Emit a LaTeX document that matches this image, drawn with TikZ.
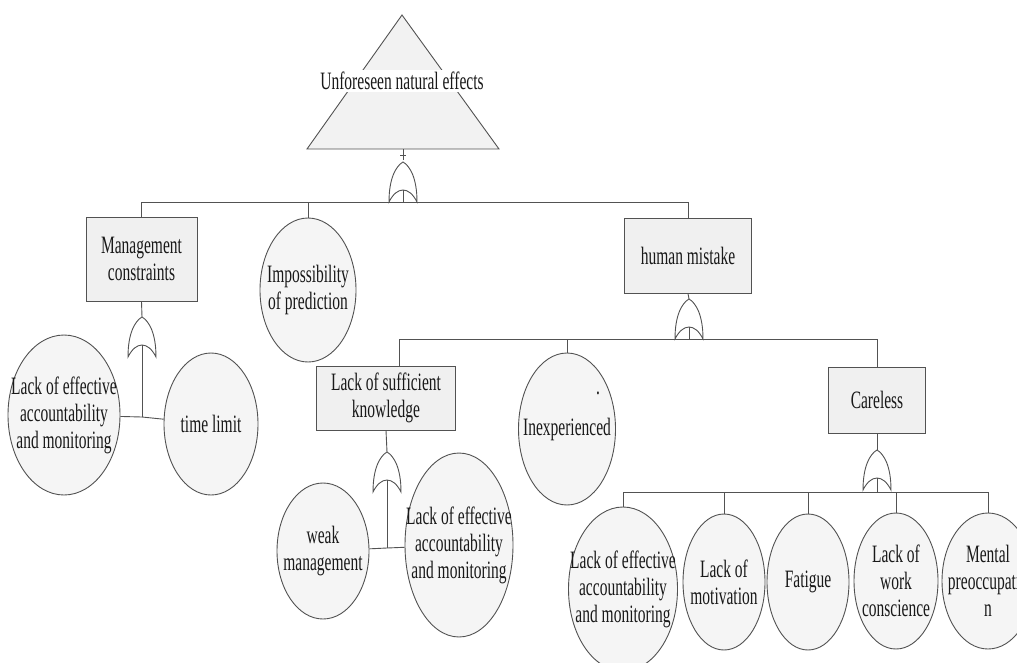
\documentclass[tikz,border=0pt]{standalone}
\usepackage{fontspec}
\setmainfont{Liberation Serif}[FakeStretch=0.62]
\usetikzlibrary{shapes.geometric,calc}

\tikzset{
  ln/.style={draw=black!68, line width=0.9pt},
  txt/.style={font=\fontsize{25}{27}\selectfont, text=black!90, align=center},
  evbox/.style={rectangle, ln, fill=black!6, inner sep=0pt, txt},
  basic/.style={ellipse, ln, fill=black!4, inner sep=-80pt, txt},
  orgate/.pic={
    \draw[ln, fill=white] (-14,0) .. controls (-14,-24) and (-7,-36) .. (0,-40)
      .. controls (7,-36) and (14,-24) .. (14,0)
      .. controls (6,-16) and (-6,-16) .. (-14,0) -- cycle;
    \coordinate (-top) at (0,-40);
    \coordinate (-in) at (0,-12);
  }
}

\begin{document}
\begin{tikzpicture}[x=1pt,y=-1pt]
\useasboundingbox (0,0) rectangle (1017,662);
\clip (0,0) rectangle (1017,662);

% top event
\draw[ln, fill=black!5] (402,15) -- (499,149) -- (307,149) -- cycle;
\coordinate (trib) at (403,149);
\node[txt, fill=white, inner sep=2pt] (ttl) at (402,81) {Unforeseen natural effects};

% level 1
\node[evbox, minimum width=111, minimum height=84] (mc) at (141.5,259) {Management\\constraints};
\node[basic, minimum width=96, minimum height=144] (ip) at (308,290) {Impossibility\\of prediction};
\node[evbox, minimum width=127, minimum height=75] (hm) at (688,255.5) {human mistake};

% management children
\node[basic, minimum width=112, minimum height=160] (le1) at (64,415) {Lack of effective\\accountability\\and monitoring};
\node[basic, minimum width=94, minimum height=142] (tl) at (211,424) {time limit};

% human mistake children
\node[evbox, minimum width=139, minimum height=64] (lsk) at (386,398) {Lack of sufficient\\knowledge};
\node[basic, minimum width=97, minimum height=152] (ie) at (567,429) {Inexperienced};
\node[txt, inner sep=0pt] (iedot) at (598,393) {.};
\node[evbox, minimum width=97, minimum height=66] (cl) at (877,400) {Careless};

% knowledge children
\node[basic, minimum width=92, minimum height=136] (wm) at (323,551) {weak\\management};
\node[basic, minimum width=108, minimum height=184] (le2) at (459,545) {Lack of effective\\accountability\\and monitoring};

% careless children
\node[basic, minimum width=109, minimum height=164] (le3) at (623,589) {Lack of effective\\accountability\\and monitoring};
\node[basic, minimum width=82, minimum height=136] (lm) at (724,582) {Lack of\\motivation};
\node[basic, minimum width=82, minimum height=136] (fa) at (808,582) {Fatigue};
\node[basic, minimum width=84, minimum height=136] (lw) at (896,581) {Lack of\\work\\conscience};
\node[basic, minimum width=92, minimum height=136] (mp) at (988,581) {Mental\\preoccupatio\\n};

% gate 1 (top)
\coordinate (b1) at (403,202);
\draw[ln] (trib) -- (403,160);
\draw[ln] (400,155) -- (406,155);
\draw[ln] (mc.north) -- (mc.north |- b1) -- (hm.north |- b1) -- (hm.north);
\draw[ln] (ip.north) -- (ip.north |- b1);
\pic (g1) at (403,202) {orgate};
\draw[ln] (g1-in) -- (b1);

% gate 2 (management constraints)
\pic (g2) at (142,357) {orgate};
\coordinate (b2) at (142,417);
\draw[ln] (mc.south) -- (g2-top);
\draw[ln] (g2-in) -- (b2);
\draw[ln] (b2) -- (le1);
\draw[ln] (b2) -- (tl);

% gate 3 (human mistake)
\coordinate (b3) at (689,339);
\coordinate (lskn) at ($(lsk.north)+(13,0)$);
\draw[ln] (lskn) -- (lskn |- b3) -- (cl.north |- b3) -- (cl.north);
\draw[ln] (ie.north) -- (ie.north |- b3);
\draw[ln] (hm.south) -- (689,299);
\pic (g3) at (689,339) {orgate};
\draw[ln] (g3-in) -- (b3);

% gate 4 (lack of sufficient knowledge)
\pic (g4) at (387,492) {orgate};
\coordinate (b4) at (387,548);
\draw[ln] (lsk.south) -- (g4-top);
\draw[ln] (g4-in) -- (b4);
\draw[ln] (b4) -- (wm);
\draw[ln] (b4) -- (le2);

% gate 5 (careless)
\coordinate (b5) at (877,492);
\draw[ln] (le3.north |- b5) -- (mp.north |- b5);
\foreach \n in {le3,lm,fa,lw,mp} { \draw[ln] (\n.north |- b5) -- (\n.north); }
\draw[ln] (cl.south) -- (877,450);
\pic (g5) at (877,490) {orgate};
\draw[ln] (g5-in) -- (b5);
\end{tikzpicture}
\end{document}
